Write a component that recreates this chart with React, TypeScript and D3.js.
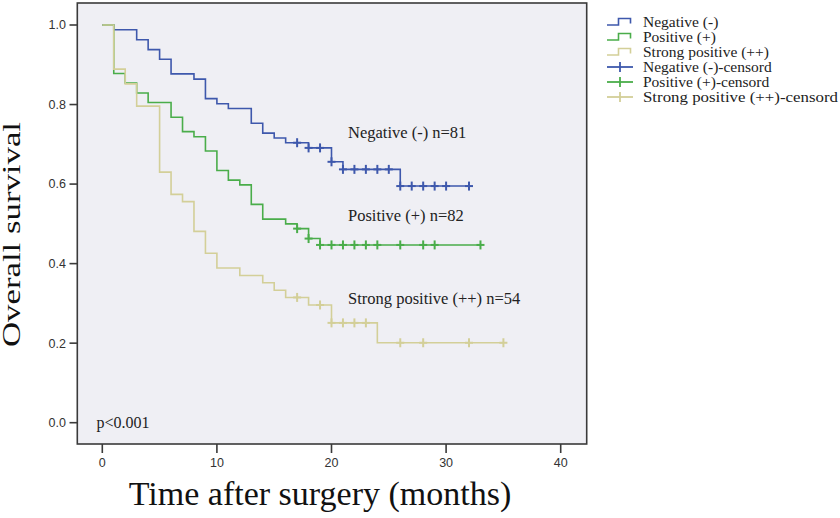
import React from "react";
import * as d3 from "d3";

// ---- Data ----
const negTimes = [0, 1, 3, 4, 5, 6, 8, 9, 10, 11, 13, 14, 15, 16, 18, 20, 21, 26, 32];
const negSurv = [1, 0.988, 0.963, 0.938, 0.914, 0.877, 0.864, 0.815, 0.802, 0.79, 0.753, 0.728, 0.716, 0.704, 0.691, 0.656, 0.637, 0.595, 0.595];
const negCensor = [17, 18, 19, 20, 21, 22, 23, 24, 25, 26, 27, 28, 29, 30, 32];

const posTimes = [0, 1, 2, 3, 4, 6, 7, 8, 9, 10, 11, 12, 13, 14, 16, 17, 18, 19, 33];
const posSurv = [1, 0.878, 0.854, 0.829, 0.805, 0.768, 0.732, 0.719, 0.683, 0.634, 0.61, 0.598, 0.549, 0.512, 0.5, 0.488, 0.463, 0.447, 0.447];
const posCensor = [17, 18, 19, 20, 21, 22, 23, 24, 26, 28, 29, 33];

const strTimes = [0, 1, 2, 3, 5, 6, 7, 8, 9, 10, 12, 14, 15, 16, 18, 20, 24, 35];
const strSurv = [1, 0.889, 0.852, 0.796, 0.63, 0.574, 0.556, 0.481, 0.426, 0.389, 0.37, 0.352, 0.333, 0.315, 0.296, 0.251, 0.201, 0.201];
const strCensor = [17, 19, 20, 21, 22, 23, 26, 28, 32, 35];

const xTicks = [0, 10, 20, 30, 40];
const yTicks = [0, 0.2, 0.4, 0.6, 0.8, 1.0];

const seriesNames = ["Negative (-)", "Positive (+)", "Strong positive (++)"];
const groupLabels = ["Negative (-) n=81", "Positive (+) n=82", "Strong positive (++) n=54"];
const colors = ["#3e58ac", "#4aad4a", "#d3cf98"];

// ---- Layout ----
const W = 840, H = 518;
const frame = { left: 77.3, right: 586.7, top: 3, bottom: 444 };

const x = d3.scaleLinear().domain([0, 40]).range([102.3, 560.7]);
const y = d3.scaleLinear().domain([0, 1]).range([422.7, 25]);

const series = [
  { times: negTimes, surv: negSurv, censor: negCensor },
  { times: posTimes, surv: posSurv, censor: posCensor },
  { times: strTimes, surv: strSurv, censor: strCensor },
];

function survAt(times: number[], surv: number[], t: number) {
  let v = surv[0];
  for (let i = 0; i < times.length; i++) if (times[i] <= t) v = surv[i];
  return v;
}

const line = d3
  .line<[number, number]>()
  .x((d) => x(d[0]))
  .y((d) => y(d[1]))
  .curve(d3.curveStepAfter);

const labelPos = [
  { x: 348, y: 138 },
  { x: 348, y: 221 },
  { x: 348, y: 304 },
];

export default function App() {
  const serif = "'Liberation Serif', 'Times New Roman', serif";
  const sans = "'Liberation Sans', Arial, sans-serif";
  return (
    <svg width={W} height={H} style={{ position: "absolute", left: 0, top: 0, background: "#fff" }}>
      <rect x={frame.left} y={frame.top} width={frame.right - frame.left} height={frame.bottom - frame.top} fill="#efeff4" />
      {/* curves */}
      {series.map((s, i) => {
        const pts = s.times.map((t, j) => [t, s.surv[j]] as [number, number]);
        return (
          <g key={i}>
            <path d={line(pts) || ""} fill="none" stroke={colors[i]} strokeWidth={1.6} />
            {s.censor.map((c, k) => {
              const cx = x(c), cy = y(survAt(s.times, s.surv, c));
              return (
                <g key={k} stroke={colors[i]} strokeWidth={2}>
                  <line x1={cx - 4} x2={cx + 4} y1={cy} y2={cy} />
                  <line x1={cx} x2={cx} y1={cy - 4.5} y2={cy + 4.5} />
                </g>
              );
            })}
          </g>
        );
      })}
      {/* group annotations */}
      {groupLabels.map((g, i) => (
        <text key={i} x={labelPos[i].x} y={labelPos[i].y} fontFamily={serif} fontSize={16.5} fill="#222">
          {g}
        </text>
      ))}
      <text x={96.5} y={427.5} fontFamily={serif} fontSize={16} fill="#222">p&lt;0.001</text>
      {/* frame */}
      <rect x={frame.left} y={frame.top} width={frame.right - frame.left} height={frame.bottom - frame.top} fill="none" stroke="#3a3a3a" strokeWidth={1.6} />
      {/* y axis */}
      {yTicks.map((t, i) => (
        <g key={i}>
          <line x1={69.5} x2={frame.left} y1={y(t)} y2={y(t)} stroke="#3a3a3a" strokeWidth={1.6} />
          <text x={66} y={y(t)} dy="0.35em" textAnchor="end" fontFamily={sans} fontSize={12.5} fill="#333">
            {d3.format(".1f")(t)}
          </text>
        </g>
      ))}
      {/* x axis */}
      {xTicks.map((t, i) => (
        <g key={i}>
          <line x1={x(t)} x2={x(t)} y1={frame.bottom} y2={frame.bottom + 9} stroke="#3a3a3a" strokeWidth={1.6} />
          <text x={x(t)} y={467} textAnchor="middle" fontFamily={sans} fontSize={12.5} fill="#333">
            {t}
          </text>
        </g>
      ))}
      <text x={320} y={505} textAnchor="middle" fontFamily={serif} fontSize={34} fill="#111">
        Time after surgery (months)
      </text>
      <text transform="translate(20,234.5) rotate(-90)" textAnchor="middle" fontFamily={serif} fontSize={26} textLength={225} lengthAdjust="spacingAndGlyphs" fill="#111">
        Overall survival
      </text>
      {/* legend */}
      {seriesNames.map((n, i) => {
        const cy = 22 + i * 15;
        return (
          <g key={"s" + i}>
            <path d={`M607,${cy + 3}H618.5V${cy - 3.5}H630.5V${cy + 1.5}`} fill="none" stroke={colors[i]} strokeWidth={1.6} />
            <text x={643} y={cy + 4.5} fontFamily={serif} fontSize={15.5} fill="#222">{n}</text>
          </g>
        );
      })}
      {seriesNames.map((n, i) => {
        const cy = 22 + (i + 3) * 15;
        return (
          <g key={"c" + i}>
            <g stroke={colors[i]} strokeWidth={1.8}>
              <line x1={607} x2={633} y1={cy} y2={cy} />
              <line x1={620} x2={620} y1={cy - 5} y2={cy + 5} />
            </g>
            <text x={643} y={cy + 4.5} fontFamily={serif} fontSize={15.5} textLength={n === "Strong positive (++)" ? 195 : undefined} lengthAdjust="spacingAndGlyphs" fill="#222">{n + "-censord"}</text>
          </g>
        );
      })}
    </svg>
  );
}
